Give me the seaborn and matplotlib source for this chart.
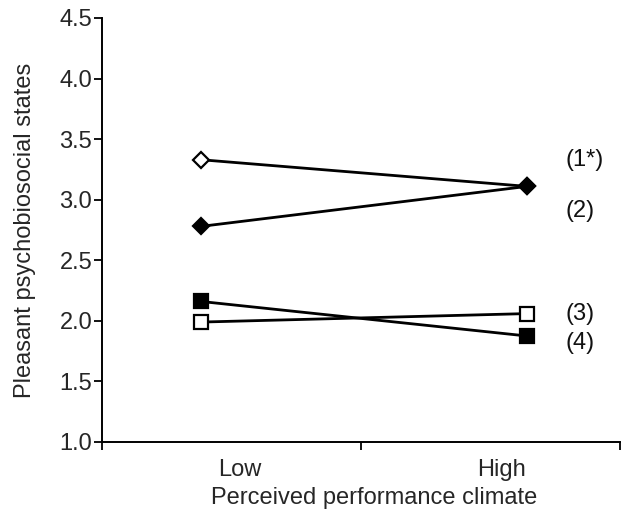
import matplotlib
matplotlib.use("Agg")
import matplotlib.pyplot as plt
import seaborn as sns
import pandas as pd

climate = ["Low", "High"]
series_labels = ["(1*)", "(2)", "(3)", "(4)"]
s1 = [3.33, 3.11]
s2 = [2.78, 3.11]
s3 = [1.99, 2.06]
s4 = [2.16, 1.875]
yticks = [1.0, 1.5, 2.0, 2.5, 3.0, 3.5, 4.0, 4.5]

sns.set_theme(style="ticks")
plt.rcParams['font.family'] = ['Liberation Sans', 'DejaVu Sans']
FS = 17

fig = plt.figure(figsize=(6.22, 5.13), dpi=100)
ax = fig.add_axes([102/622, 1-442/513, (620-102)/622, (442-18)/513])

xpos = [0, 1]
styles = [
    dict(marker="D", mfc="white", ms=8.5),
    dict(marker="D", mfc="black", ms=8.5),
    dict(marker="s", mfc="white", ms=10),
    dict(marker="s", mfc="black", ms=10),
]
all_vals = [s1, s2, s3, s4]
for vals, st in zip(all_vals, styles):
    df = pd.DataFrame({"x": xpos, "y": vals})
    sns.lineplot(data=df, x="x", y="y", ax=ax, color="black", linewidth=2,
                 marker=st["marker"], markersize=st["ms"],
                 markerfacecolor=st["mfc"], markeredgecolor="black",
                 markeredgewidth=1.6, legend=False)

label_y = [3.33, 2.91, 2.06, 1.82]
for ly, lab in zip(label_y, series_labels):
    ax.text(1.117, ly, lab, fontsize=FS, va="center", ha="left", color="#111111")

x_left, x_mid, x_right = -0.304, 0.49, 1.285
ax.set_xlim(x_left, x_right)
ax.set_ylim(1.0, 4.5)
ax.set_yticks(yticks)
ax.set_yticklabels([f"{v:.1f}" for v in yticks], fontsize=FS)
ax.set_xticks([x_left, x_mid, x_right])
ax.set_xticklabels(["", "", ""])
ax.set_xticks([0.12, 0.92], minor=True)
ax.set_xticklabels(climate, minor=True, fontsize=FS)
ax.tick_params(axis="x", which="minor", length=0, pad=12)
ax.tick_params(axis="both", which="major", length=6, width=1.3, color="black")
ax.tick_params(axis="y", pad=1)
ax.set_xlabel("Perceived performance climate", fontsize=FS)
ax.set_ylabel("Pleasant psychobiosocial states", fontsize=FS)
ax.xaxis.set_label_coords((374-102)/518, -0.106)
ax.yaxis.set_label_coords((36-102)/518, 0.5)
for sp in ["top", "right"]:
    ax.spines[sp].set_visible(False)
for sp in ["left", "bottom"]:
    ax.spines[sp].set_linewidth(1.4)
    ax.spines[sp].set_color("black")

fig.savefig("out.png", dpi=100)
